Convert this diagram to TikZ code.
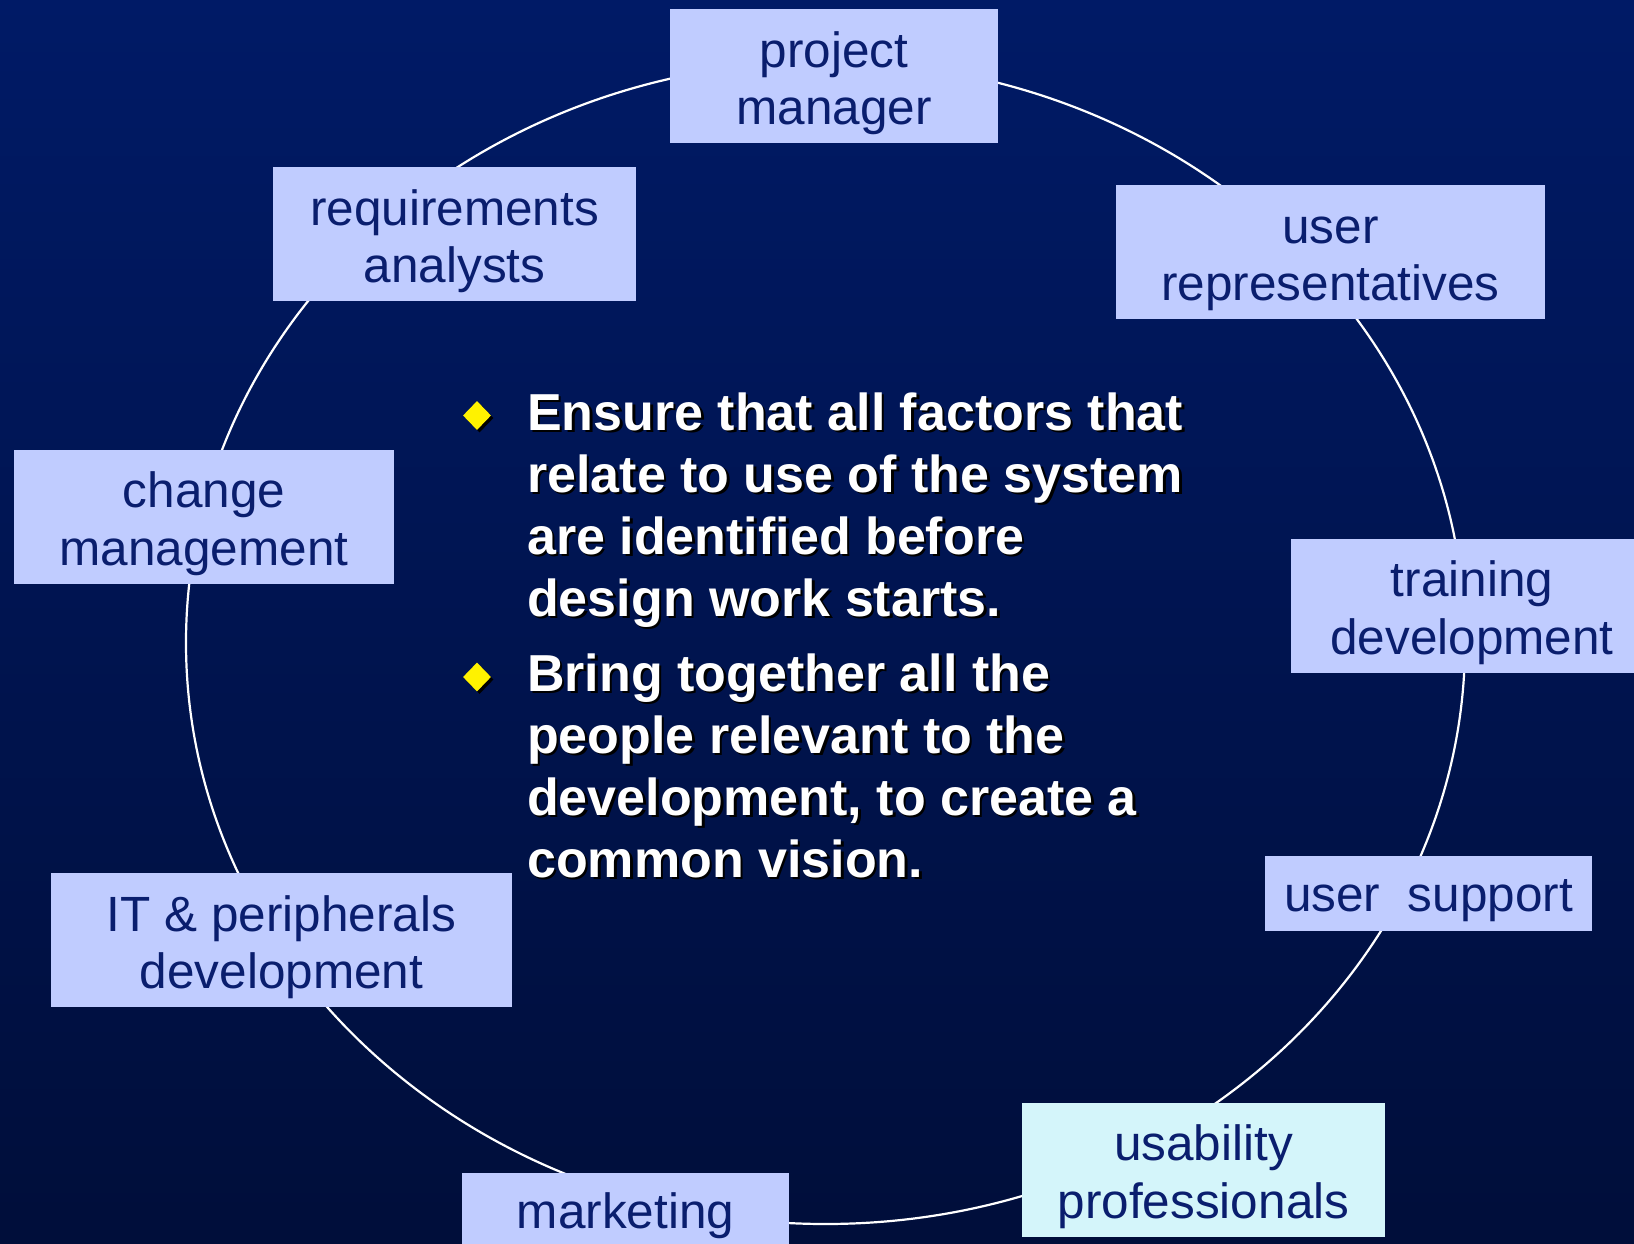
\documentclass[tikz,border=0pt]{standalone}
\usepackage{fontspec}
\setmainfont{Liberation Sans}
\usetikzlibrary{shapes.geometric}
\definecolor{bgtop}{RGB}{0,26,102}
\definecolor{bgbot}{RGB}{0,14,58}
\definecolor{boxfill}{RGB}{192,204,255}
\definecolor{usabfill}{RGB}{212,245,250}
\definecolor{boxtext}{RGB}{10,30,110}
\newcommand{\topst}{\rule{0pt}{50pt}}
\newcommand{\botst}{\rule[-9.5pt]{0pt}{9.5pt}}
\newcommand{\shtxt}[1]{\rlap{\kern2.5pt\raisebox{-2.5pt}{\textcolor{black}{#1}}}#1}
\tikzset{
  stakebox/.style={fill=boxfill, text=boxtext, align=center, inner sep=0pt,
    font=\fontsize{49.5}{57.5}\selectfont},
  twoline/.style={minimum height=134pt},
  oneline/.style={minimum height=75pt},
  bullettext/.style={anchor=base west, inner sep=0pt, text=white,
    font=\fontsize{52}{62}\selectfont\bfseries},
  bulletmark/.style={shape=diamond, fill=yellow, minimum width=28pt, minimum height=29pt, inner sep=0pt},
  bulletshadow/.style={shape=diamond, fill=black, minimum width=28pt, minimum height=29pt, inner sep=0pt},
}
\begin{document}
\begin{tikzpicture}[x=1pt,y=-1pt]
\useasboundingbox (0,0) rectangle (1634,1244);
\clip (0,0) rectangle (1634,1244);
\shade[top color=bgtop, bottom color=bgbot] (0,0) rectangle (1634,1244);
% ring
\draw[white, line width=2.2pt] (825.5,642.7) ellipse [x radius=639.5, y radius=581.3];
% boxes
\node[stakebox, twoline, minimum width=328pt] (pm) at (834,76) {\topst project\\\botst manager};
\node[stakebox, twoline, minimum width=363pt] (req) at (454.5,234) {\topst requirements\\\botst analysts};
\node[stakebox, twoline, minimum width=429pt] (urep) at (1330.5,252) {\topst user\\\botst representatives};
\node[stakebox, twoline, minimum width=380pt] (chg) at (204,516.5) {\topst change\\\botst management};
\node[stakebox, twoline, minimum width=362pt] (trn) at (1472,605.5) {\topst training\\\botst development};
\node[stakebox, oneline, minimum width=327pt] (usup) at (1428.5,893.5) {\rule[-9.5pt]{0pt}{55pt}user\ \ support};
\node[stakebox, twoline, minimum width=461pt] (itp) at (281.5,940) {\topst IT \& peripherals\\\botst development};
\node[stakebox, oneline, minimum width=327pt] (mkt) at (625.5,1210.5) {\rule[-9.5pt]{0pt}{55pt}marketing};
\node[stakebox, twoline, minimum width=363pt, fill=usabfill] (usab) at (1203.5,1169.5) {\topst usability\\\botst professionals};
% bullets
\node[bulletshadow] (d1s) at (479.5,418) {};
\node[bulletmark] (d1) at (477,415.5) {};
\node[bulletshadow] (d2s) at (479.5,679.5) {};
\node[bulletmark] (d2) at (477,677) {};
\node[bullettext] (l1) at (527,430) {\shtxt{Ensure that all factors that}};
\node[bullettext] (l2) at (527,492) {\shtxt{relate to use of the system}};
\node[bullettext] (l3) at (527,554) {\shtxt{are identified before}};
\node[bullettext] (l4) at (527,616) {\shtxt{design work starts.}};
\node[bullettext] (l5) at (527,691) {\shtxt{Bring together all the}};
\node[bullettext] (l6) at (527,753) {\shtxt{people relevant to the}};
\node[bullettext] (l7) at (527,815) {\shtxt{development, to create a}};
\node[bullettext] (l8) at (527,877) {\shtxt{common vision.}};
\end{tikzpicture}
\end{document}
